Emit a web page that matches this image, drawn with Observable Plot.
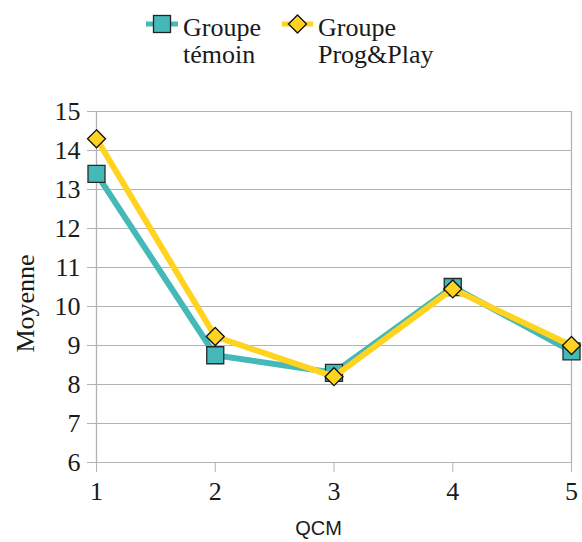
<!DOCTYPE html>
<html>
<head>
<meta charset="utf-8">
<script src="https://cdn.jsdelivr.net/npm/d3@7"></script>
<script src="https://cdn.jsdelivr.net/npm/@observablehq/plot@0.6"></script>
<style>
  html, body { margin: 0; padding: 0; background: #fff; }
  #legend svg, #chart svg { display: block; }
</style>
</head>
<body>
<div id="legend"></div>
<div id="chart"></div>
<script>
const qcm = [1, 2, 3, 4, 5];
const temoin = [13.4, 8.75, 8.3, 10.5, 8.85];
const progPlay = [14.3, 9.23, 8.2, 10.45, 9.0];
const yTicks = [6, 7, 8, 9, 10, 11, 12, 13, 14, 15];
const seriesNames = [["Groupe", "témoin"], ["Groupe", "Prog&Play"]];
const teal = "#45b9b7";
const yellow = "#ffd320";
const grid = "#b3b3b3";
const textColor = "#1a1a1a";

const rowsT = qcm.map((q, i) => ({q, v: temoin[i]}));
const rowsP = qcm.map((q, i) => ({q, v: progPlay[i]}));

// Legend (above the chart)
const leg = d3.select("#legend").append("svg")
  .attr("width", 582).attr("height", 80)
  .style("font-family", "'Liberation Serif', serif")
  .style("font-size", "26px");
const items = [
  {x0: 146, x1: 178, color: teal, symbol: "square", tx: 183, names: seriesNames[0]},
  {x0: 282, x1: 313, color: yellow, symbol: "diamond", tx: 318, names: seriesNames[1]}
];
items.forEach(it => {
  leg.append("line").attr("x1", it.x0).attr("x2", it.x1).attr("y1", 24).attr("y2", 24)
    .attr("stroke", it.color).attr("stroke-width", 5);
  const cx = (it.x0 + it.x1) / 2;
  if (it.symbol === "square") {
    leg.append("rect").attr("x", cx - 8.5).attr("y", 24 - 8.5).attr("width", 17).attr("height", 17)
      .attr("fill", it.color).attr("stroke", "#222").attr("stroke-width", 1.3);
  } else {
    leg.append("path").attr("d", `M${cx},${24-9}L${cx+9},24L${cx},${24+9}L${cx-9},24Z`)
      .attr("fill", it.color).attr("stroke", "#111").attr("stroke-width", 1.3);
  }
  it.names.forEach((n, k) => {
    leg.append("text").attr("x", it.tx).attr("y", 36 + k * 27).attr("fill", textColor).text(n);
  });
});

const chart = Plot.plot({
  width: 582,
  height: 462,
  marginLeft: 96,
  marginRight: 11,
  marginTop: 31,
  marginBottom: 80,
  style: {fontFamily: "'Liberation Serif', serif", fontSize: "26px", color: textColor, background: "#fff"},
  x: {domain: [1, 5], label: null},
  y: {domain: [6, 15], label: null},
  marks: [
    Plot.gridY(yTicks, {stroke: grid, strokeOpacity: 1, strokeWidth: 1}),
    Plot.ruleX([1, 5], {stroke: grid, strokeWidth: 1.3}),
    Plot.axisY(yTicks, {tickSize: 9, tickPadding: 7, stroke: grid, fill: textColor, tickFormat: d => String(d), label: null}),
    Plot.axisX(qcm, {tickSize: 10, tickPadding: 9, stroke: grid, fill: textColor, tickFormat: d => String(d), label: null}),
    Plot.line(rowsT, {x: "q", y: "v", stroke: teal, strokeWidth: 6, strokeLinejoin: "round"}),
    Plot.dot(rowsT, {x: "q", y: "v", symbol: "square", r: 9.6, fill: teal, stroke: "#2a2a2a", strokeWidth: 1.3}),
    Plot.line(rowsP, {x: "q", y: "v", stroke: yellow, strokeWidth: 6, strokeLinejoin: "round"}),
    Plot.dot(rowsP, {x: "q", y: "v", symbol: "diamond2", r: 8.1, fill: yellow, stroke: "#111", strokeWidth: 1.3}),
    Plot.text(["Moyenne"], {frameAnchor: "left", textAnchor: "middle", dx: -71, dy: 16.5, rotate: -90, fontSize: 26, fill: textColor}),
    Plot.text(["QCM"], {frameAnchor: "bottom", dx: -15.5, dy: 66, fontSize: 20, fontFamily: "'Liberation Sans', Arial, sans-serif", fill: textColor, lineAnchor: "middle"})
  ]
});
document.getElementById("chart").appendChild(chart);
</script>
</body>
</html>
